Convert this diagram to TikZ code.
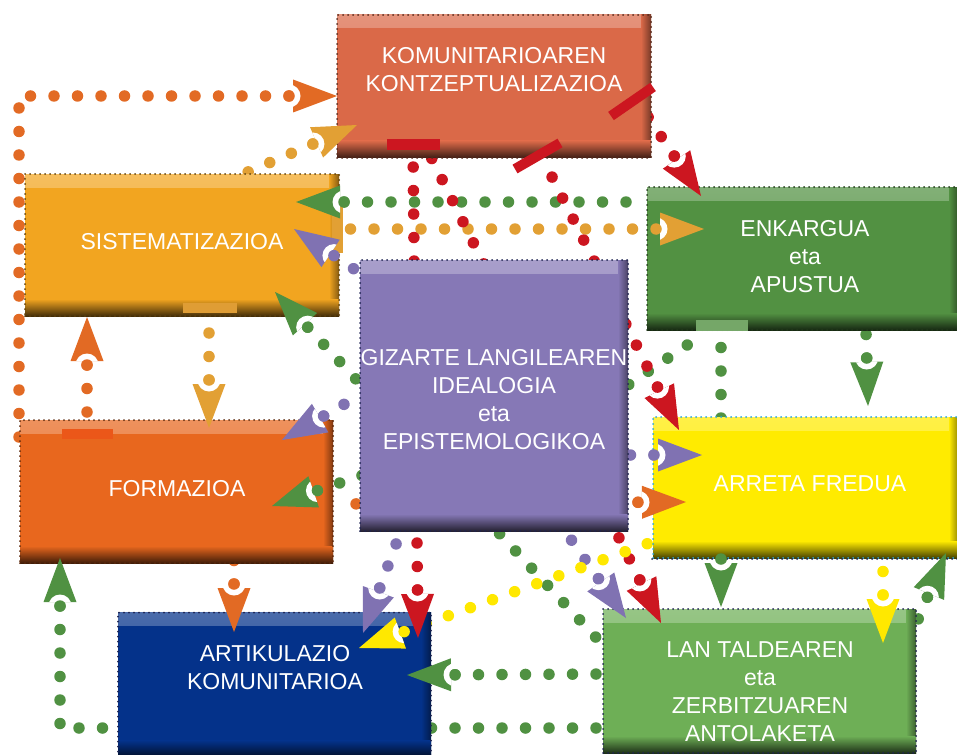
\documentclass[tikz,border=0pt]{standalone}
\usepackage{fontspec}
\setmainfont{Liberation Sans}
\usetikzlibrary{calc,decorations.markings}
\pgfdeclarelayer{back}
\pgfdeclarelayer{front}
\pgfsetlayers{back,main,front}

\definecolor{cKomu}{RGB}{218,105,72}
\definecolor{cSist}{RGB}{242,165,32}
\definecolor{cEnk}{RGB}{82,145,66}
\definecolor{cPurp}{RGB}{134,120,182}
\definecolor{cForm}{RGB}{232,103,30}
\definecolor{cArr}{RGB}{255,235,0}
\definecolor{cArt}{RGB}{4,50,138}
\definecolor{cLan}{RGB}{110,175,86}
\definecolor{dOr}{RGB}{226,106,36}
\definecolor{dGold}{RGB}{226,160,52}
\definecolor{dGreen}{RGB}{80,145,66}
\definecolor{dRed}{RGB}{204,22,32}
\definecolor{dPurp}{RGB}{128,114,178}
\definecolor{dYel}{RGB}{255,232,0}
\definecolor{cNavy}{RGB}{30,35,80}
\definecolor{cCyan}{RGB}{40,165,220}

\tikzset{
  box/.style={rectangle, inner sep=0pt, fill=#1, draw=#1!40!black,
    line width=2pt, line cap=round, dash pattern=on 0pt off 5pt,
    path picture={
      \shade[top color=#1!72!white, bottom color=#1]
        (path picture bounding box.north west) rectangle ([yshift=-13pt]path picture bounding box.north east);
      \shade[left color=#1, right color=#1!55!black]
        ([xshift=-10pt]path picture bounding box.north east) rectangle (path picture bounding box.south east);
      \shade[top color=#1, bottom color=#1!28!black]
        ([yshift=17pt]path picture bounding box.south west) rectangle (path picture bounding box.south east);
    }},
  lbl/.style={text=white, align=center, inner sep=0pt,
    font=\fontsize{23}{28}\selectfont},
  dl/.style={decoration={markings,
      mark=between positions 0 and 1 step 23.5pt with {\fill[#1] (0,0) circle[radius=5.75pt];}},
    decorate},
}

% arrowhead with round notch: colour, previous point, tip
\newcommand\ahead[3]{%
  \coordinate (ahB) at ($(#3)!44pt!(#2)$);
  \coordinate (ahN) at ($(#3)!48pt!(#2)$);
  \coordinate (ahL) at ($(ahB)!16.5pt!90:(#3)$);
  \coordinate (ahR) at ($(ahB)!16.5pt!-90:(#3)$);
  \fill[#1] (#3) -- (ahL) -- (ahR) -- cycle;
  \begin{scope}
    \clip (#3) -- (ahL) -- (ahR) -- cycle;
    \fill[white] (ahN) circle[radius=11.5pt];
  \end{scope}
  \fill[#1] (ahN) circle[radius=5.75pt];
}
% straight dotted connector: colour, start, tip
\newcommand\conn[3]{%
  \begin{pgfonlayer}{back}
    \path[dl=#1] ($(#3)!48pt!(#2)$) -- (#2);
  \end{pgfonlayer}
  \begin{pgfonlayer}{front}\ahead{#1}{#2}{#3}\end{pgfonlayer}
}

\begin{document}
\begin{tikzpicture}[x=1pt, y=-1pt]
\useasboundingbox (0,0) rectangle (957,754);

% ---------- boxes ----------
\node[box=cKomu, minimum width=314pt, minimum height=143pt] (komu) at (494,86.5) {};
\node[box=cSist, minimum width=314pt, minimum height=142pt] (sist) at (182,245) {};
\node[box=cEnk, minimum width=312pt, minimum height=143pt] (enk) at (803,258.5) {};
\node[box=cPurp, draw=cNavy, minimum width=268pt, minimum height=271pt] (purp) at (494,395.5) {};
\node[box=cForm, minimum width=313pt, minimum height=143pt] (form) at (176.5,491.5) {};
\node[box=cArr, draw=cCyan, minimum width=306pt, minimum height=141pt] (arr) at (806,487.5) {};
\node[box=cArt, draw=cNavy, minimum width=313pt, minimum height=145pt] (art) at (274.5,685) {};
\node[box=cLan, draw=cNavy, minimum width=313pt, minimum height=144pt] (lan) at (759.5,681) {};
\draw[cNavy, line width=2pt, line cap=round, dash pattern=on 0pt off 5pt]
  (arr.south west) -- (arr.south east);

% ---------- port bars ----------
\fill[dRed] (387,139) rectangle (440,150);
\draw[dRed, line width=10pt] (515,169) -- (560,143);
\draw[dRed, line width=10pt] (611,116) -- (653,87);
\fill[dGold!90!brown] (183,303) rectangle (237,313);
\fill[dGold] (332,203) rectangle (343,253);
\fill[cForm!85!red] (62,429) rectangle (113,439);
\fill[cEnk!80!white] (696,320) rectangle (748,331);

% ---------- labels ----------
\node[lbl] (komuT) at (494,70) {KOMUNITARIOAREN\\KONTZEPTUALIZAZIOA};
\node[lbl] (sistT) at (182,242) {SISTEMATIZAZIOA};
\node[lbl] (enkT) at (805,257) {ENKARGUA\\eta\\APUSTUA};
\node[lbl] (purpT) at (494,400) {GIZARTE LANGILEAREN\\IDEALOGIA\\eta\\EPISTEMOLOGIKOA};
\node[lbl] (formT) at (177,489) {FORMAZIOA};
\node[lbl] (arrT) at (810,484) {ARRETA FREDUA};
\node[lbl] (artT) at (275,668) {ARTIKULAZIO\\KOMUNITARIOA};
\node[lbl] (lanT) at (760,692) {LAN TALDEAREN\\eta\\ZERBITZUAREN\\ANTOLAKETA};

% ---------- connector end points ----------
\coordinate (aS) at (19,446);  \coordinate (aC) at (19,96);   \coordinate (aT) at (337,96);
\coordinate (bS) at (87,425);  \coordinate (bT) at (87,317);
\coordinate (cS) at (234,556); \coordinate (cT) at (234,632);
\coordinate (dS) at (338,504); \coordinate (dT) at (686,502);
\coordinate (eS) at (220,184); \coordinate (eT) at (357,125);
\coordinate (fS) at (343,229); \coordinate (fT) at (704,229);
\coordinate (gS) at (209,316); \coordinate (gT) at (209,428);
\coordinate (hS) at (648,202); \coordinate (hT) at (296,202);
\coordinate (iS) at (866,332); \coordinate (iT) at (868,406);
\coordinate (jS) at (721,332); \coordinate (jT) at (721,607);
\coordinate (kS) at (705,333); \coordinate (kC) at (628,385); \coordinate (kT) at (272,506);
\coordinate (lS) at (603,645); \coordinate (lT) at (275,292);
\coordinate (mS) at (603,674); \coordinate (mT) at (407,675);
\coordinate (nS) at (603,728); \coordinate (nC) at (60,728);  \coordinate (nT) at (60,558);
\coordinate (oS) at (906,648); \coordinate (oT) at (946,553);
\coordinate (pS) at (640,105); \coordinate (pT) at (701,196);
\coordinate (qS) at (413,150); \coordinate (qT) at (418,638);
\coordinate (rS) at (430,155); \coordinate (rT) at (661,623);
\coordinate (sS) at (545,163); \coordinate (sT) at (679,430);
\coordinate (tS) at (372,281); \coordinate (tT) at (294,229);
\coordinate (uS) at (362,394); \coordinate (uT) at (282,440);
\coordinate (vS) at (628,455); \coordinate (vT) at (702,455);
\coordinate (wS) at (402,528); \coordinate (wT) at (363,633);
\coordinate (xS) at (563,528); \coordinate (xT) at (626,618);
\coordinate (yS) at (883,545); \coordinate (yT) at (883,643);
\coordinate (zS) at (652,542); \coordinate (zT) at (359,648);

% ---------- connectors ----------
% orange
\begin{pgfonlayer}{back}
  \path[dl=dOr] ($(aT)!48pt!(aC)$) -- (aC) -- (aS);
\end{pgfonlayer}
\begin{pgfonlayer}{front}\ahead{dOr}{aC}{aT}\end{pgfonlayer}
\conn{dOr}{bS}{bT}
\conn{dOr}{cS}{cT}
\conn{dOr}{dS}{dT}
% gold
\conn{dGold}{eS}{eT}
\conn{dGold}{fS}{fT}
\conn{dGold}{gS}{gT}
% green
\conn{dGreen}{hS}{hT}
\conn{dGreen}{iS}{iT}
\conn{dGreen}{jS}{jT}
\begin{pgfonlayer}{back}
  \path[dl=dGreen] ($(kT)!48pt!(kC)$) -- (kC) -- (kS);
  \path[dl=dGreen] ($(nT)!48pt!(nC)$) -- (nC) -- (nS);
\end{pgfonlayer}
\begin{pgfonlayer}{front}
  \ahead{dGreen}{kC}{kT}
  \ahead{dGreen}{nC}{nT}
\end{pgfonlayer}
\conn{dGreen}{lS}{lT}
\conn{dGreen}{mS}{mT}
\conn{dGreen}{oS}{oT}
% red
\conn{dRed}{pS}{pT}
\conn{dRed}{qS}{qT}
\conn{dRed}{rS}{rT}
\conn{dRed}{sS}{sT}
% purple
\conn{dPurp}{tS}{tT}
\conn{dPurp}{uS}{uT}
\conn{dPurp}{vS}{vT}
\conn{dPurp}{wS}{wT}
\conn{dPurp}{xS}{xT}
% yellow
\conn{dYel}{yS}{yT}
\conn{dYel}{zS}{zT}
\end{tikzpicture}
\end{document}
